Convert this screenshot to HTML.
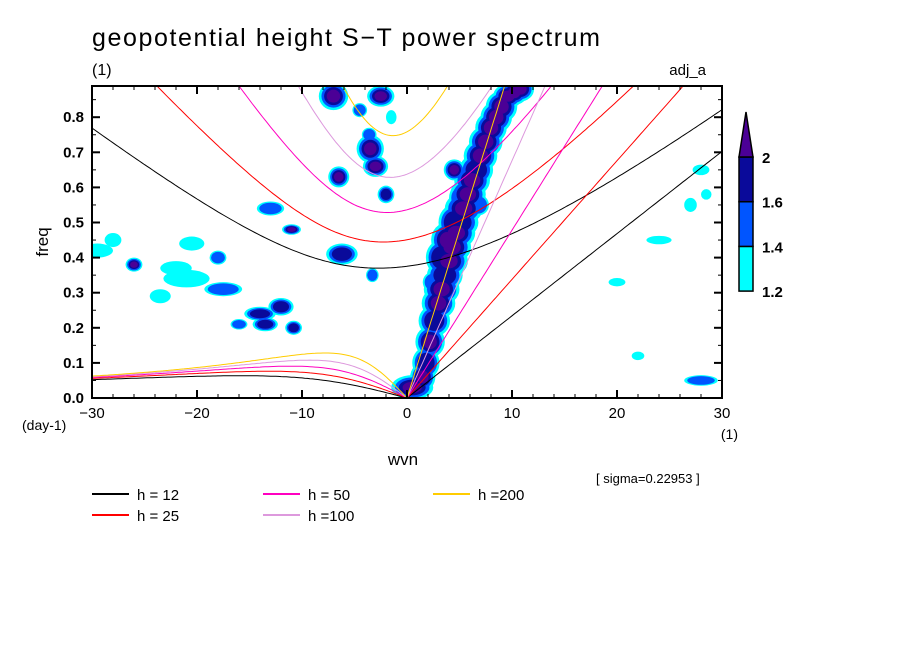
<!DOCTYPE html>
<html><head><meta charset="utf-8"><style>
body{margin:0;background:#fff}
svg text{font-family:"Liberation Sans",sans-serif;fill:#000}
</style></head><body>
<svg id="chart" width="904" height="654" viewBox="0 0 904 654" xmlns="http://www.w3.org/2000/svg">
<rect width="904" height="654" fill="#fff"/>
<text x="92" y="46" font-size="25" textLength="508">geopotential height S−T power spectrum</text>
<text x="92" y="75" font-size="16">(1)</text>
<text x="706" y="75" font-size="15" text-anchor="end">adj_a</text>
<defs><clipPath id="pc"><rect x="92" y="86" width="630" height="312"/></clipPath></defs>
<g id="blobs" clip-path="url(#pc)"></g>
<g id="curves" clip-path="url(#pc)"></g>
<g id="axes"></g>
<text transform="translate(48,242) rotate(-90)" font-size="17" text-anchor="middle">freq</text>
<text x="22" y="430" font-size="14">(day-1)</text>
<text x="403" y="465" font-size="17" text-anchor="middle">wvn</text>
<text x="738" y="439" font-size="14" text-anchor="end">(1)</text>
<text x="596" y="483" font-size="13">[ sigma=0.22953 ]</text>
<g id="legend"></g>
<g id="colorbar"></g>
</svg>
<script>
const NS="http://www.w3.org/2000/svg";
const depths=[12,25,50,100,200];
const depthLabels=["h = 12","h = 25","h = 50","h =100","h =200"];
const depthColors=["#000000","#ff0000","#ff00c0","#dd99dd","#ffcc00"];
const xTicks=[-30,-20,-10,0,10,20,30];
const yTicks=[0,0.1,0.2,0.3,0.4,0.5,0.6,0.7,0.8];
const yTickLabels=["0.0","0.1","0.2","0.3","0.4","0.5","0.6","0.7","0.8"];
const cbLevels=["1.2","1.4","1.6","2"];
const cbColors=["#00ffff","#0055ff","#0a0a9a","#4b0096"];
// blobs: wvn, freq, half-width (wvn), half-height (freq), level 0..3
const blobWvn=[0.5,1.8,2.2,2.6,3,3.3,3.6,4,4.3,4.7,5,5.4,5.8,6.2,6.6,7,7.5,8,8.5,9,9.6,10.2,10.8,3.2,3.8,4.4,5.2,4.5,1.5,2.5,2.8,6.8,
 -7,-2.5,-3.5,-3,-6.5,-2,-11,-13,-6.2,-3.6,-4.5,-1.5,
 -28,-26,-29.5,-20.5,-18,-21,-17.5,-14,-13.5,-12,-16,-22,-10.8,-3.3,-23.5,
 24,28,27,20,28,22,28.5];
const blobFreq=[0.03,0.1,0.16,0.22,0.27,0.31,0.35,0.39,0.43,0.47,0.5,0.54,0.58,0.62,0.65,0.69,0.73,0.77,0.8,0.83,0.86,0.87,0.88,0.4,0.45,0.5,0.57,0.65,0.06,0.33,0.28,0.55,
 0.86,0.86,0.71,0.66,0.63,0.58,0.48,0.54,0.41,0.75,0.82,0.8,
 0.45,0.38,0.42,0.44,0.4,0.34,0.31,0.24,0.21,0.26,0.21,0.37,0.2,0.35,0.29,
 0.45,0.65,0.55,0.33,0.05,0.12,0.58];
const blobRx=[2,1.3,1.4,1.5,1.6,1.7,1.7,1.8,1.8,1.8,1.8,1.8,1.7,1.7,1.6,1.6,1.6,1.5,1.5,1.5,1.4,1.3,1.3,1.4,1.5,1.4,1.2,1,1.2,1,1,1,
 1.4,1.3,1.3,1.2,1,0.8,0.9,1.3,1.5,0.7,0.7,0.5,
 0.8,0.8,1.5,1.2,0.8,2.2,1.8,1.5,1.2,1.2,0.8,1.5,0.8,0.6,1,
 1.2,0.8,0.6,0.8,1.6,0.6,0.5];
const blobRy=[0.035,0.045,0.045,0.045,0.045,0.045,0.045,0.045,0.045,0.045,0.045,0.045,0.045,0.045,0.045,0.045,0.045,0.045,0.045,0.045,0.035,0.035,0.035,0.05,0.05,0.05,0.04,0.03,0.04,0.03,0.03,0.03,
 0.04,0.03,0.04,0.03,0.03,0.025,0.015,0.02,0.03,0.02,0.02,0.02,
 0.02,0.02,0.02,0.02,0.02,0.025,0.02,0.02,0.02,0.025,0.015,0.02,0.02,0.02,0.02,
 0.012,0.015,0.02,0.012,0.015,0.012,0.015];
const blobLevel=[3,2,3,2,3,3,2,3,3,3,2,3,3,3,2,3,3,3,3,3,3,3,3,2,3,2,1,3,3,1,0,1,
 3,3,3,3,3,2,3,1,2,1,1,0,
 0,3,0,0,1,0,1,2,2,2,1,0,2,1,0,
 0,0,0,0,1,0,0];
const X0=92,X1=722,Y0=398,Y1=86,FMAX=(398-86)/351;
const sx=w=>X0+(w+30)/60*(X1-X0);
const sy=f=>Y0-f/FMAX*(Y0-Y1);
function el(tag,attrs,parent){const e=document.createElementNS(NS,tag);for(const k in attrs)e.setAttribute(k,attrs[k]);parent.appendChild(e);return e;}
const bg=document.getElementById('blobs');
const pxW=(X1-X0)/60, pxF=(Y0-Y1)/FMAX;
for(let lev=0;lev<4;lev++){
 for(let i=0;i<blobWvn.length;i++){
  if(blobLevel[i]<lev)continue;
  const s=1-lev*0.18;
  const e=el('ellipse',{cx:sx(blobWvn[i]),cy:sy(blobFreq[i]),rx:blobRx[i]*pxW*s,ry:blobRy[i]*pxF*s,fill:cbColors[lev]},bg);
  
  
 }
}
const g=9.81,a=6.371e6,beta=2*7.292e-5/a,toCpd=86400/(2*Math.PI);
function cubicRoot(k,c,w0){let w=w0;for(let it=0;it<60;it++){const f=w*w*w-c*c*(k*k+3*beta/c)*w-beta*c*c*k;const d=3*w*w-c*c*(k*k+3*beta/c);w-=f/d;}return w;}
const cg=document.getElementById('curves');
depths.forEach((h,j)=>{
 const c=Math.sqrt(g*h);
 let kel=[],eig=[],er=[];
 for(let s=-30;s<=30.001;s+=0.25){
  const k=s/a;
  if(s>=0)kel.push([s,c*k*toCpd]);
  eig.push([s,cubicRoot(k,c,2*Math.sqrt(c*c*k*k+3*beta*c)+Math.abs(c*k))*toCpd]);
  if(s<=0)er.push([s,cubicRoot(k,c,0)*toCpd]);
 }
 [["kelvin",kel],["eig",eig],["er",er]].forEach(([nm,pts])=>{
  const p=el('polyline',{points:pts.map(q=>sx(q[0]).toFixed(1)+','+sy(q[1]).toFixed(1)).join(' '),fill:'none',stroke:depthColors[j],'stroke-width':1},cg);
  
  
 });
});
const ag=document.getElementById('axes');
el('rect',{x:X0,y:Y1,width:X1-X0,height:Y0-Y1,fill:'none',stroke:'#000','stroke-width':2},ag);
for(let w=-30;w<=30;w+=2){const maj=w%10===0,L=maj?8:4;
 el('line',{x1:sx(w),x2:sx(w),y1:Y0,y2:Y0-L,stroke:'#000','stroke-width':maj?2:1},ag);
 el('line',{x1:sx(w),x2:sx(w),y1:Y1,y2:Y1+L,stroke:'#000','stroke-width':maj?2:1},ag);}
for(let i=0;i<=17;i++){const f=i*0.05,maj=i%2===0,L=maj?8:4;
 el('line',{x1:X0,x2:X0+L,y1:sy(f),y2:sy(f),stroke:'#000','stroke-width':maj?2:1},ag);
 el('line',{x1:X1,x2:X1-L,y1:sy(f),y2:sy(f),stroke:'#000','stroke-width':maj?2:1},ag);}
xTicks.forEach(w=>{const t=el('text',{x:sx(w),y:418,'font-size':15,'text-anchor':'middle'},ag);t.textContent=(w<0?'−':'')+Math.abs(w);
 
 });
yTicks.forEach((f,i)=>{const t=el('text',{x:84,y:sy(f)+5,'font-size':15,'text-anchor':'end','font-weight':'bold'},ag);t.textContent=yTickLabels[i];
 
 });
const lg=document.getElementById('legend');
const lx=[92,263,433],ly=[494,515];
depths.forEach((h,j)=>{const col=Math.floor(j/2),row=j%2;
 const ln=el('line',{x1:lx[col],x2:lx[col]+37,y1:ly[row],y2:ly[row],stroke:depthColors[j],'stroke-width':2},lg);
 
 
 const t=el('text',{x:lx[col]+45,y:ly[row]+6,'font-size':15},lg);t.textContent=depthLabels[j];
 
 });
const cb=document.getElementById('colorbar');
const cbX=739,cbW=14,boxTop=157,boxH=44.7;
for(let i=0;i<3;i++){const y=boxTop+(2-i)*boxH;
 const r=el('rect',{x:cbX,y:y,width:cbW,height:boxH,fill:cbColors[i],stroke:'#000','stroke-width':1.5},cb);
 
 }
const tri=el('polygon',{points:`${cbX},${boxTop} ${cbX+cbW},${boxTop} ${cbX+cbW/2},112`,fill:cbColors[3],stroke:'#000','stroke-width':1.5},cb);


cbLevels.forEach((lab,i)=>{const t=el('text',{x:762,y:boxTop+(3-i)*boxH+6,'font-size':15,'font-weight':'bold'},cb);t.textContent=lab;
 
 });
</script>
</body></html>
